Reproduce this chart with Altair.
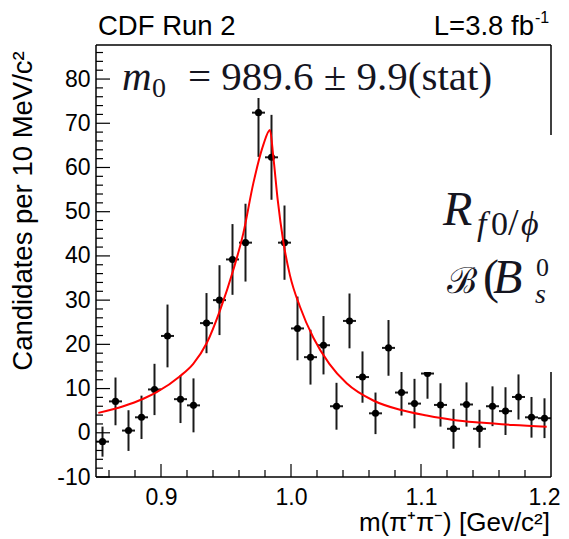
import altair as alt
import pandas as pd

# ---- data ----
bin_center = [0.855, 0.865, 0.875, 0.885, 0.895, 0.905, 0.915, 0.925, 0.935, 0.945,
              0.955, 0.965, 0.975, 0.985, 0.995, 1.005, 1.015, 1.025, 1.035, 1.045,
              1.055, 1.065, 1.075, 1.085, 1.095, 1.105, 1.115, 1.125, 1.135, 1.145,
              1.155, 1.165, 1.175, 1.185, 1.195]
counts = [-2.0, 7.1, 0.5, 3.5, 9.8, 21.9, 7.6, 6.2, 24.8, 30.0,
          39.2, 43.0, 72.4, 62.3, 43.0, 23.6, 17.1, 19.8, 6.0, 25.3,
          12.6, 4.4, 19.2, 9.1, 6.6, 13.4, 6.3, 0.9, 6.4, 0.9,
          6.0, 4.9, 8.1, 3.5, 3.3]
errors = [3.4, 5.4, 4.6, 4.9, 5.8, 7.1, 5.4, 6.1, 6.8, 7.9,
          8.0, 8.8, 10.0, 9.6, 8.4, 7.2, 6.2, 6.6, 5.3, 6.2,
          5.8, 4.7, 6.3, 5.2, 5.6, 5.7, 4.9, 4.5, 5.0, 4.3,
          4.5, 5.4, 5.1, 4.6, 4.5]
bin_half = 0.005

fit_mass = [0.8518, 0.871, 0.8864, 0.8967, 0.9146, 0.9248, 0.9352, 0.9454, 0.9556,
            0.9633, 0.971, 0.9787, 0.9838, 0.9864, 0.9898, 0.9941, 0.9992, 1.0069,
            1.0172, 1.0295, 1.0428, 1.0633, 1.0838, 1.1044, 1.1248, 1.1454, 1.171, 1.1967]
fit_value = [4.5, 6.0, 7.7, 9.2, 12.8, 15.6, 20.3, 27.7, 36.8,
             45.1, 56.4, 65.1, 68.5, 62.4, 52.6, 43.2, 35.6, 28.5,
             21.5, 15.6, 11.2, 7.3, 5.2, 3.9, 2.9, 2.3, 1.75, 1.35]

x_label_values = [0.9, 1.0, 1.1, 1.2]
x_major_ticks = [0.9, 1.0, 1.1]
x_minor_ticks = [0.86, 0.88, 0.92, 0.94, 0.96, 0.98, 1.02, 1.04, 1.06, 1.08,
                 1.12, 1.14, 1.16, 1.18]
y_label_values = [-10, 0, 10, 20, 30, 40, 50, 60, 70, 80]
y_minor_ticks = [v for v in range(-8, 88, 2) if v % 10 != 0]

x_domain = [0.85, 1.2]
y_domain = [-10, 87.7]

W, H = 455, 432
INK = "#1a1a1a"

pts = pd.DataFrame({"m": bin_center, "n": counts, "e": errors})
pts["lo"] = pts["n"] - pts["e"]
pts["hi"] = pts["n"] + pts["e"]
pts["mlo"] = pts["m"] - bin_half
pts["mhi"] = pts["m"] + bin_half
fit = pd.DataFrame({"m": fit_mass, "v": fit_value})
one = pd.DataFrame({"k": [0]})

xs = alt.Scale(domain=x_domain, nice=False, zero=False)
ys = alt.Scale(domain=y_domain, nice=False, zero=False)

x_axis = alt.Axis(values=x_label_values, format=".1f", labelFontSize=23,
                  labelFont="Liberation Sans", labelColor="black", domain=False,
                  ticks=False, tickSize=0, grid=False, labelPadding=9,
                  labelOffset={"condition": {"test": "datum.value > 1.19", "value": -7},
                               "value": 0},
                  labelFlush=False, labelOverlap=False, title=None)
y_axis = alt.Axis(values=y_label_values, labelExpr="'' + datum.value",
                  labelFontSize=23,
                  labelFont="Liberation Sans", labelColor="black", domain=False,
                  ticks=False, tickSize=0, grid=False, labelPadding=6,
                  labelOverlap=False, title=None)


def X(f):
    return alt.X(f, scale=xs, axis=x_axis, title=None)


def Y(f):
    return alt.Y(f, scale=ys, axis=y_axis, title=None)


base = alt.Chart(pts)
vbars = base.mark_rule(color=INK, strokeWidth=2).encode(
    x=X("m:Q"), y=Y("lo:Q"), y2="hi:Q")
hbars = base.mark_rule(color=INK, strokeWidth=2).encode(
    x=X("mlo:Q"), x2="mhi:Q", y=Y("n:Q"))
dots = base.mark_circle(color="black", size=50, opacity=1).encode(
    x=X("m:Q"), y=Y("n:Q"))
curve = alt.Chart(fit).mark_line(color="#ff0000", strokeWidth=2,
                                 interpolate="monotone").encode(
    x=X("m:Q"), y=Y("v:Q"))

xmaj = alt.Chart(pd.DataFrame({"t": x_major_ticks})).mark_rule(
    color="black", strokeWidth=1.2).encode(
    x=X("t:Q"), y=alt.value(H), y2=alt.value(H - 13))
xmin = alt.Chart(pd.DataFrame({"t": x_minor_ticks})).mark_rule(
    color="black", strokeWidth=1.2).encode(
    x=X("t:Q"), y=alt.value(H), y2=alt.value(H - 7))
ymaj = alt.Chart(pd.DataFrame({"t": y_label_values})).mark_rule(
    color="black", strokeWidth=1.2).encode(
    y=Y("t:Q"), x=alt.value(0), x2=alt.value(14))
ymin = alt.Chart(pd.DataFrame({"t": y_minor_ticks})).mark_rule(
    color="black", strokeWidth=1.2).encode(
    y=Y("t:Q"), x=alt.value(0), x2=alt.value(7))


def rule(x1, x2, y1, y2, sw=1.5):
    return alt.Chart(one).mark_rule(color="black", strokeWidth=sw).encode(
        x=alt.value(x1), x2=alt.value(x2), y=alt.value(y1), y2=alt.value(y2))


frame = [rule(0, W, 0, 0), rule(0, W, H, H), rule(0, 0, 0, H), rule(W, W, 0, H)]


def box(x1, x2, y1, y2):
    return alt.Chart(one).mark_rect(color="white", opacity=1).encode(
        x=alt.value(x1), x2=alt.value(x2), y=alt.value(y1), y2=alt.value(y2))


def txt(s, x, y, size, font="Liberation Sans", style="normal", align="left",
        baseline="alphabetic", angle=0, color="black"):
    return alt.Chart(one).mark_text(
        text=s, font=font, fontSize=size, fontStyle=style, align=align,
        baseline=baseline, angle=angle, color=color).encode(
        x=alt.value(x), y=alt.value(y))


SERIF = "Liberation Serif"
TXT = "#15151f"
texts = [
    txt("CDF Run 2", 2, -10, 27.5),
    txt("L=3.8 fb", 438, -10, 27.5, align="right"),
    txt("-1", 439, -22, 16),
    txt("Candidates per 10 MeV/c²", -72, 166, 27.5, angle=270,
        baseline="middle", align="center"),
    txt("m(π⁺π⁻) [Gev/c²]", 454, 486, 26, align="right"),
    # formula
    txt("m", 26, 45, 41, font=SERIF, style="italic", color=TXT),
    txt("0", 56, 52, 28, font=SERIF, color=TXT),
    txt("=  989.6 ± 9.9(stat)", 92, 45, 41, font=SERIF, color=TXT),
    # overlay fragment
    txt("R", 347, 180, 48, font=SERIF, style="italic", color=TXT),
    txt("f", 381, 190, 34, font=SERIF, style="italic", color=TXT),
    txt("0", 395, 190, 34, font=SERIF, color=TXT),
    txt("/", 412, 190, 38, font=SERIF, color=TXT),
    txt("ϕ", 425, 190, 34, font=SERIF, style="italic", color=TXT),
    txt("ℬ", 351, 248, 36, font="DejaVu Serif", color=TXT),
    txt("(", 387, 248, 48, font=SERIF, color=TXT),
    txt("B", 397, 248, 48, font=SERIF, style="italic", color=TXT),
    txt("0", 440, 231, 26, font=SERIF, color=TXT),
    txt("s", 439, 258, 28, font=SERIF, style="italic", color=TXT),
]

layers = [vbars, hbars, dots, curve, xmaj, xmin, ymaj, ymin] + frame + [
    box(16, 404, 7, 53), box(299, 480, 90, 327)] + texts

chart = alt.layer(*layers).properties(
    width=W, height=H,
    autosize=alt.AutoSizeParams(type="none"),
    padding={"left": 88, "top": 37, "right": 10, "bottom": 62},
    background="white",
).configure_view(stroke=None)

chart.save("out.html", embed_options={"renderer": "svg", "actions": False})
